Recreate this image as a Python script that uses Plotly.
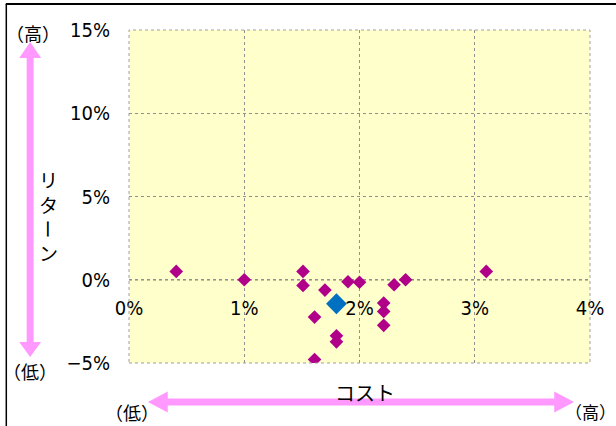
import plotly.graph_objects as go

# Data (cost %, return %)
cost = [0.41, 1.00, 1.51, 1.51, 1.70, 1.90, 2.00, 2.30, 2.40, 2.21, 2.21, 2.21, 1.61, 1.80, 1.80, 1.61, 3.10]
ret = [0.50, 0.00, 0.50, -0.34, -0.62, -0.12, -0.15, -0.30, 0.00, -1.40, -1.90, -2.74, -2.24, -3.37, -3.73, -4.79, 0.50]
focus_cost = [1.80]
focus_ret = [-1.44]

x_ticks = [0, 1, 2, 3, 4]
x_labels = ["0%", "1%", "2%", "3%", "4%"]
y_ticks = [-5, 0, 5, 10, 15]
y_labels = ["−5%", "0%", "5%", "10%", "15%"]

W, H = 616, 426
L, R, T, B = 129, 593, 30, 363


def px(x):
    return (x - L) / (R - L)


def py(y):
    return (B - y) / (B - T)


fig = go.Figure()
fig.add_trace(go.Scatter(x=cost, y=ret, mode="markers",
                         marker=dict(symbol="diamond", size=10.5, color="#B0008A"),
                         hoverinfo="skip", showlegend=False))
fig.add_trace(go.Scatter(x=focus_cost, y=focus_ret, mode="markers",
                         marker=dict(symbol="diamond", size=16, color="#0070C0"),
                         hoverinfo="skip", showlegend=False))

tickfont = dict(family="Liberation Sans Narrow, DejaVu Sans Condensed, Arial, sans-serif", size=20, color="black")
jp = "Noto Sans CJK JP"
pink = "#FF99FF"

shapes = []
# plot border (dotted gray)
shapes.append(dict(type="rect", xref="paper", yref="paper", x0=0, x1=1, y0=0, y1=1,
                   line=dict(color="#A0A0A0", width=1, dash="dot"), layer="above"))
# zero line (black dotted)
shapes.append(dict(type="line", xref="paper", yref="y", x0=0, x1=1, y0=0, y1=0,
                   line=dict(color="black", width=1, dash="dot"), layer="below"))
# outer frame lines
shapes.append(dict(type="line", xref="paper", yref="paper", x0=px(5), x1=px(620), y0=py(4), y1=py(4),
                   line=dict(color="black", width=2)))
shapes.append(dict(type="line", xref="paper", yref="paper", x0=px(5.5), x1=px(5.5), y0=py(4), y1=py(430),
                   line=dict(color="black", width=1.5)))


def poly(pts):
    s = "M " + " L ".join(f"{px(a):.5f},{py(b):.5f}" for a, b in pts) + " Z"
    return dict(type="path", xref="paper", yref="paper", path=s,
                fillcolor=pink, line=dict(width=0))


# vertical arrow
cx = 29.5
vpts = [(cx, 42), (cx + 11, 58), (cx + 3.5, 58), (cx + 3.5, 342), (cx + 11, 342), (cx, 357),
        (cx - 11, 342), (cx - 3.5, 342), (cx - 3.5, 58), (cx - 11, 58)]
shapes.append(poly(vpts))
# horizontal arrow
cy = 402
hpts = [(148, cy), (168, cy - 10.5), (168, cy - 3.5), (557, cy - 3.5), (557, cy - 10.5), (577, cy),
        (557, cy + 10.5), (557, cy + 3.5), (168, cy + 3.5), (168, cy + 10.5)]
shapes.append(poly(hpts))

annotations = []


def ann(text, x, y, size, angle=0):
    annotations.append(dict(text=text, xref="paper", yref="paper", x=px(x), y=py(y),
                            showarrow=False, xanchor="center", yanchor="middle",
                            textangle=angle, font=dict(family=jp, size=size, color="black")))


ann("（高）", 32, 33, 18)
ann("（低）", 29, 371, 18)
ann("（低）", 132, 412, 18)
ann("（高）", 594, 412, 17)
ann("コスト", 367, 392, 20)
ann("リ", 48, 179, 19)
ann("タ", 48, 204, 19)
ann("ー", 48, 229, 19, 90)
ann("ン", 48, 252, 19)

fig.update_layout(
    width=W, height=H,
    margin=dict(l=L, r=W - R, t=T, b=H - B, pad=0),
    paper_bgcolor="white", plot_bgcolor="#FFFFCC",
    shapes=shapes, annotations=annotations,
    xaxis=dict(range=[0, 4], tickvals=x_ticks, ticktext=x_labels, showgrid=True,
               gridcolor="#909090", griddash="dot", gridwidth=1, zeroline=False, showline=False,
               anchor="free", position=0.25, ticks="outside", ticklen=10,
               tickcolor="rgba(0,0,0,0)", tickfont=tickfont),
    yaxis=dict(range=[-5, 15], tickvals=y_ticks, ticktext=y_labels, showgrid=True,
               gridcolor="#909090", griddash="dot", gridwidth=1, zeroline=False, showline=False,
               ticks="outside", ticklen=14, tickcolor="rgba(0,0,0,0)", tickfont=tickfont),
)

fig.write_html("out.html", config={"displayModeBar": False},
               post_script="document.body.style.margin='0';")
